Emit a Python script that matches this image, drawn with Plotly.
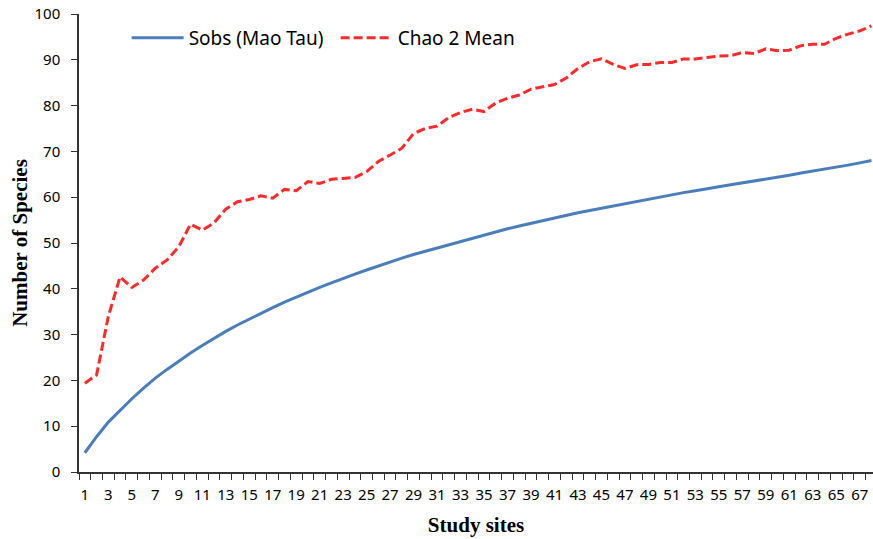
import plotly.graph_objects as go

sites = list(range(1, 69))
sobs = [4.2, 7.7, 10.9, 13.5, 16.0, 18.3, 20.5, 22.4, 24.3, 26.0,
        27.6, 29.2, 30.7, 32.1, 33.4, 34.7, 35.9, 37.1, 38.2, 39.3,
        40.3, 41.3, 42.3, 43.2, 44.1, 45.0, 45.8, 46.7, 47.5, 48.2,
        49.0, 49.7, 50.4, 51.1, 51.8, 52.4, 53.1, 53.7, 54.3, 54.9,
        55.5, 56.0, 56.6, 57.1, 57.6, 58.1, 58.6, 59.1, 59.6, 60.1,
        60.5, 61.0, 61.4, 61.9, 62.3, 62.7, 63.1, 63.5, 63.9, 64.4,
        64.8, 65.3, 65.7, 66.1, 66.6, 67.0, 67.5, 68.0]
chao2 = [19.4, 21.2, 34.0, 42.6, 40.3, 41.9, 44.5, 46.3, 49.2, 54.1,
         52.8, 54.4, 57.4, 59.0, 59.5, 60.3, 59.8, 61.7, 61.4, 63.4,
         63.0, 63.9, 64.1, 64.3, 65.6, 67.8, 69.2, 70.7, 73.9, 75.0,
         75.5, 77.4, 78.5, 79.2, 78.7, 80.6, 81.6, 82.3, 83.6, 84.1,
         84.6, 86.0, 88.1, 89.6, 90.2, 89.0, 88.1, 88.9, 89.0, 89.4,
         89.4, 90.2, 90.2, 90.5, 90.8, 90.9, 91.6, 91.4, 92.4, 92.0,
         92.1, 93.1, 93.4, 93.4, 94.7, 95.6, 96.3, 97.4]
x_labels = [str(s) for s in sites if s % 2 == 1]
x_label_vals = [s for s in sites if s % 2 == 1]
y_ticks = list(range(0, 101, 10))

fig = go.Figure()
fig.add_trace(go.Scatter(x=sites, y=sobs, mode="lines", name="Sobs (Mao Tau)",
                         line=dict(color="#4a7ebb", width=3)))
fig.add_trace(go.Scatter(x=sites, y=chao2, mode="lines", name="Chao 2 Mean",
                         line=dict(color="#ff2a2a", width=3, dash="9px,4px")))

fig.update_layout(
    width=873, height=539,
    margin=dict(l=79, r=0, t=14, b=67, autoexpand=False),
    plot_bgcolor="white", paper_bgcolor="white",
    font=dict(family="Noto Sans", size=15, color="#000000"),
    showlegend=True,
    legend=dict(orientation="h", x=0.060, y=0.948, xanchor="left", yanchor="middle",
                font=dict(family="Noto Sans", size=19, color="#000000"),
                itemwidth=52,
                entrywidth=142, entrywidthmode="pixels", bgcolor="rgba(0,0,0,0)"),
    xaxis=dict(range=[0.5, 68.13], showgrid=False, zeroline=False, automargin=False,
               showline=True, linecolor="#333333", linewidth=1.5,
               tickmode="array", tickvals=x_label_vals, ticktext=x_labels,
               ticks="", ticklabelstandoff=8,
               tickfont=dict(family="Noto Sans", size=15, color="#000000"),
               minor=dict(ticks="outside", tick0=0.5, dtick=1, ticklen=6,
                          tickcolor="#333333", tickwidth=1.2, showgrid=False),
               title=dict(text="<b>Study sites</b>", standoff=15,
                          font=dict(family="Liberation Serif", size=21, color="#000000"))),
    yaxis=dict(range=[0, 100], showgrid=False, zeroline=False, automargin=False,
               showline=True, linecolor="#333333", linewidth=1.5,
               tickmode="array", tickvals=y_ticks, ticks="outside", ticklen=6,
               tickcolor="#333333", tickwidth=1.2, ticklabelstandoff=8,
               tickfont=dict(family="Noto Sans", size=15, color="#000000"),
               title=dict(text="<b>Number of Species</b>", standoff=1,
                          font=dict(family="Liberation Serif", size=21, color="#000000"))),
)

fig.write_html("out.html", config={"displayModeBar": False},
               post_script="document.body.style.margin='0';document.body.style.padding='0';")
